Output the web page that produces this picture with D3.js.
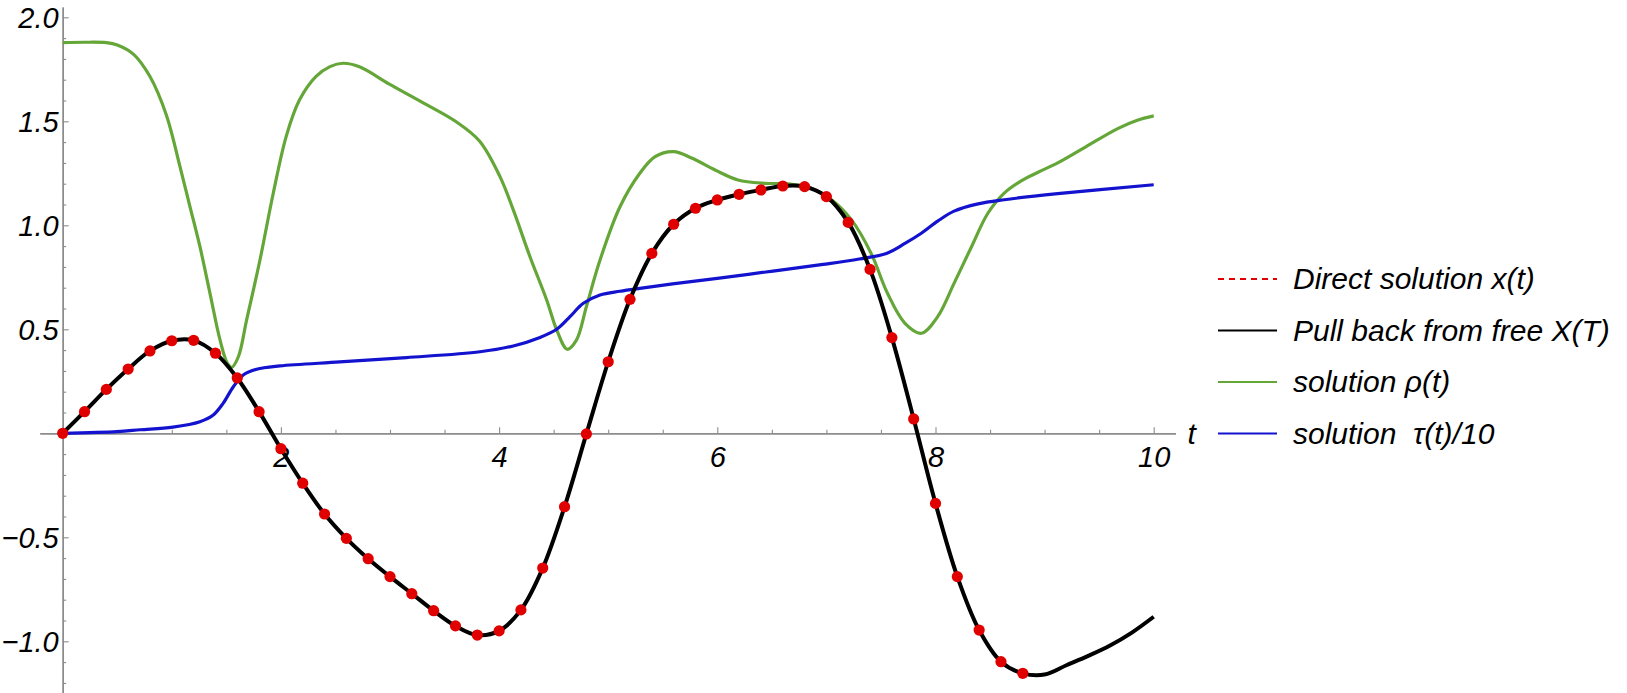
<!DOCTYPE html>
<html><head><meta charset="utf-8">
<script src="https://cdn.jsdelivr.net/npm/d3@7"></script>
<style>
body{margin:0;background:#fff}
svg text{font-family:"Liberation Sans",Arial,sans-serif;font-style:italic;fill:#000}
</style></head><body>
<svg id="c" width="1627" height="693"></svg>
<script>
// ---- data ----
const xTickLabels = [2, 4, 6, 8, 10];
const xMinorTicks = [0.5, 1, 1.5, 2.5, 3, 3.5, 4.5, 5, 5.5, 6.5, 7, 7.5, 8.5, 9, 9.5];
const yTickLabels = [-1.0, -0.5, 0.5, 1.0, 1.5, 2.0];
const yMinorTicks = [-1.2, -1.1, -0.9, -0.8, -0.7, -0.6, -0.4, -0.3, -0.2, -0.1, 0.1, 0.2, 0.3, 0.4,
  0.6, 0.7, 0.8, 0.9, 1.1, 1.2, 1.3, 1.4, 1.6, 1.7, 1.8, 1.9];

// Direct solution x(t): sampled markers
const directT = [0, 0.2, 0.4, 0.6, 0.8, 1.0, 1.2, 1.4, 1.6, 1.8, 2.0, 2.2, 2.4, 2.6, 2.8, 3.0, 3.2, 3.4,
  3.6, 3.8, 4.0, 4.2, 4.4, 4.6, 4.8, 5.0, 5.2, 5.4, 5.6, 5.8, 6.0, 6.2, 6.4, 6.6, 6.8, 7.0, 7.2, 7.4,
  7.6, 7.8, 8.0, 8.2, 8.4, 8.6, 8.8];
const directX = [0, 0.104, 0.211, 0.309, 0.396, 0.445, 0.447, 0.385, 0.266, 0.104, -0.074, -0.240,
  -0.388, -0.505, -0.603, -0.689, -0.771, -0.853, -0.926, -0.970, -0.950, -0.849, -0.648, -0.353,
  -0.003, 0.344, 0.644, 0.865, 1.005, 1.082, 1.122, 1.149, 1.170, 1.189, 1.186, 1.138, 1.014, 0.788,
  0.460, 0.069, -0.337, -0.689, -0.946, -1.098, -1.154];

// Pull back from free X(T)
const pullT = [0, 0.2, 0.4, 0.6, 0.8, 1.0, 1.2, 1.4, 1.6, 1.8, 2.0, 2.2, 2.4, 2.6, 2.8, 3.0, 3.2, 3.4,
  3.6, 3.8, 4.0, 4.2, 4.4, 4.6, 4.8, 5.0, 5.2, 5.4, 5.6, 5.8, 6.0, 6.2, 6.4, 6.6, 6.8, 7.0, 7.2, 7.4,
  7.6, 7.8, 8.0, 8.2, 8.4, 8.6, 8.8, 9.0, 9.2, 9.4, 9.6, 9.8, 10.0];
const pullX = [0, 0.104, 0.211, 0.309, 0.396, 0.445, 0.447, 0.385, 0.266, 0.104, -0.074, -0.240,
  -0.388, -0.505, -0.603, -0.689, -0.771, -0.853, -0.926, -0.970, -0.950, -0.849, -0.648, -0.353,
  -0.003, 0.344, 0.644, 0.865, 1.005, 1.082, 1.122, 1.149, 1.170, 1.189, 1.186, 1.138, 1.014, 0.788,
  0.460, 0.069, -0.337, -0.689, -0.946, -1.098, -1.154, -1.160, -1.115, -1.070, -1.020, -0.958, -0.882];

// solution rho(t)
const rhoT = [0, 0.2, 0.4, 0.5, 0.65, 0.8, 0.95, 1.075, 1.167, 1.258, 1.35, 1.442, 1.509, 1.549, 1.61,
  1.686, 1.808, 1.93, 2.05, 2.17, 2.32, 2.45, 2.57, 2.72, 2.99, 3.30, 3.60, 3.82, 4.008, 4.13,
  4.283, 4.436, 4.528, 4.625, 4.71, 4.80, 4.925, 5.108, 5.29, 5.43, 5.60, 5.77, 5.98, 6.19, 6.44, 6.65,
  6.86, 7.05, 7.23, 7.41, 7.56, 7.72, 7.87, 8.02, 8.17, 8.33, 8.48, 8.63, 8.79, 8.94, 9.12, 9.37, 9.67,
  9.85, 10.0];
const rhoV = [1.878, 1.880, 1.878, 1.867, 1.822, 1.715, 1.530, 1.282, 1.089, 0.897, 0.673, 0.449,
  0.337, 0.317, 0.368, 0.545, 0.833, 1.154, 1.430, 1.602, 1.715, 1.763, 1.779, 1.762, 1.680, 1.590,
  1.500, 1.405, 1.234, 1.074, 0.849, 0.641, 0.497, 0.404, 0.449, 0.609, 0.833, 1.089, 1.250,
  1.330, 1.354, 1.322, 1.266, 1.218, 1.202, 1.199, 1.178, 1.122, 1.026, 0.865, 0.673, 0.529, 0.481,
  0.561, 0.721, 0.897, 1.058, 1.155, 1.215, 1.255, 1.300, 1.375, 1.465, 1.505, 1.526];

// solution tau(t)/10
const tauT = [0, 0.5, 0.71, 1.01, 1.258, 1.38, 1.47, 1.564, 1.655, 1.778, 1.99, 2.54, 3.15, 3.825, 4.13,
  4.375, 4.528, 4.65, 4.772, 4.925, 5.108, 5.29, 5.59, 6.0, 6.51, 6.97, 7.3, 7.55, 7.72, 7.87, 8.02,
  8.17, 8.39, 8.63, 9.12, 10.0];
const tauV = [0, 0.008, 0.017, 0.030, 0.056, 0.088, 0.144, 0.224, 0.280, 0.308, 0.324, 0.343, 0.364,
  0.392, 0.420, 0.461, 0.500, 0.561, 0.625, 0.665, 0.683, 0.697, 0.718, 0.745, 0.780, 0.812, 0.838,
  0.865, 0.913, 0.962, 1.020, 1.068, 1.103, 1.123, 1.152, 1.195];

const legendLabels = ["Direct solution x(t)", "Pull back from free X(T)", "solution \u03C1(t)", "solution  \u03C4(t)/10"];
const legendColors = ["#e00000", "#000000", "#64a637", "#1212cf"];
const legendDashed = [true, false, false, false];

// ---- drawing ----
const svg = d3.select("#c");
const FS = 30, TFS = 29;
const x = d3.scaleLinear().domain([0, 10]).range([62.7, 1153.7]);
const y = d3.scaleLinear().domain([0, 1]).range([433.3, 225.3]);
const xa = d3.scaleLinear().domain([-0.21, 10.2]).range([x(-0.21), x(10.2)]);
const ya = d3.scaleLinear().domain([-1.27, 2.05]).range([y(-1.27), y(2.05)]);
const axisColor = "#8c8c8c";

function styleAxis(g) {
  g.attr("font-family", null).attr("font-size", null);
  g.selectAll("path.domain").attr("stroke", axisColor).attr("stroke-width", 1.4);
  g.selectAll(".tick line").attr("stroke", axisColor).attr("stroke-width", 1.1);
  g.selectAll(".tick text").style("font-size", TFS + "px").style("font-style", "italic").attr("fill", "#000");
}

// x axis minor
svg.append("g").attr("transform", `translate(0,${y(0)})`)
  .call(d3.axisBottom(xa).tickValues(xMinorTicks).tickSize(-3.5).tickSizeOuter(0).tickFormat(""))
  .call(styleAxis);
// x axis major
svg.append("g").attr("transform", `translate(0,${y(0)})`)
  .call(d3.axisBottom(xa).tickValues(xTickLabels).tickSize(-6).tickSizeOuter(0).tickPadding(13).tickFormat(d3.format("d")))
  .call(styleAxis);
// y axis minor
svg.append("g").attr("transform", `translate(${x(0)},0)`)
  .call(d3.axisLeft(ya).tickValues(yMinorTicks).tickSize(-3.5).tickSizeOuter(0).tickFormat(""))
  .call(styleAxis);
// y axis major
const gy = svg.append("g").attr("transform", `translate(${x(0)},0)`)
  .call(d3.axisLeft(ya).tickValues(yTickLabels).tickSize(-6).tickSizeOuter(0).tickPadding(4).tickFormat(d3.format(".1f")))
  .call(styleAxis);
gy.selectAll(".tick text").attr("dy", "0.36em");

// axis label t
svg.append("text").attr("x", x(10.2) + 12).attr("y", y(0) + 11).style("font-size", FS + "px").text("t");

// curves
const line = d3.line().x(d => x(d[0])).y(d => y(d[1])).curve(d3.curveCatmullRom.alpha(0.5));
svg.append("path").datum(rhoT.map((t, i) => [t, rhoV[i]]))
  .attr("d", line).attr("fill", "none").attr("stroke", legendColors[2]).attr("stroke-width", 3.2);
svg.append("path").datum(tauT.map((t, i) => [t, tauV[i]]))
  .attr("d", line).attr("fill", "none").attr("stroke", legendColors[3]).attr("stroke-width", 3.2);
svg.append("path").datum(pullT.map((t, i) => [t, pullX[i]]))
  .attr("d", line).attr("fill", "none").attr("stroke", legendColors[1]).attr("stroke-width", 4);
svg.append("g").selectAll("circle").data(directT.map((t, i) => [t, directX[i]])).join("circle")
  .attr("cx", d => x(d[0])).attr("cy", d => y(d[1])).attr("r", 5.6).attr("fill", legendColors[0]);

// legend
const lg = svg.append("g");
const legY0 = 279, legStep = 51.5;
legendLabels.forEach((lab, i) => {
  const yy = legY0 + i * legStep;
  lg.append("line").attr("x1", 1218).attr("x2", 1277).attr("y1", yy).attr("y2", yy)
    .attr("stroke", legendColors[i]).attr("stroke-width", 1.8)
    .attr("stroke-dasharray", legendDashed[i] ? "6,5" : null);
  lg.append("text").attr("x", 1293).attr("y", yy + 10).attr("xml:space", "preserve")
    .style("font-size", FS + "px").style("white-space", "pre").text(lab);
});
</script>
</body></html>
